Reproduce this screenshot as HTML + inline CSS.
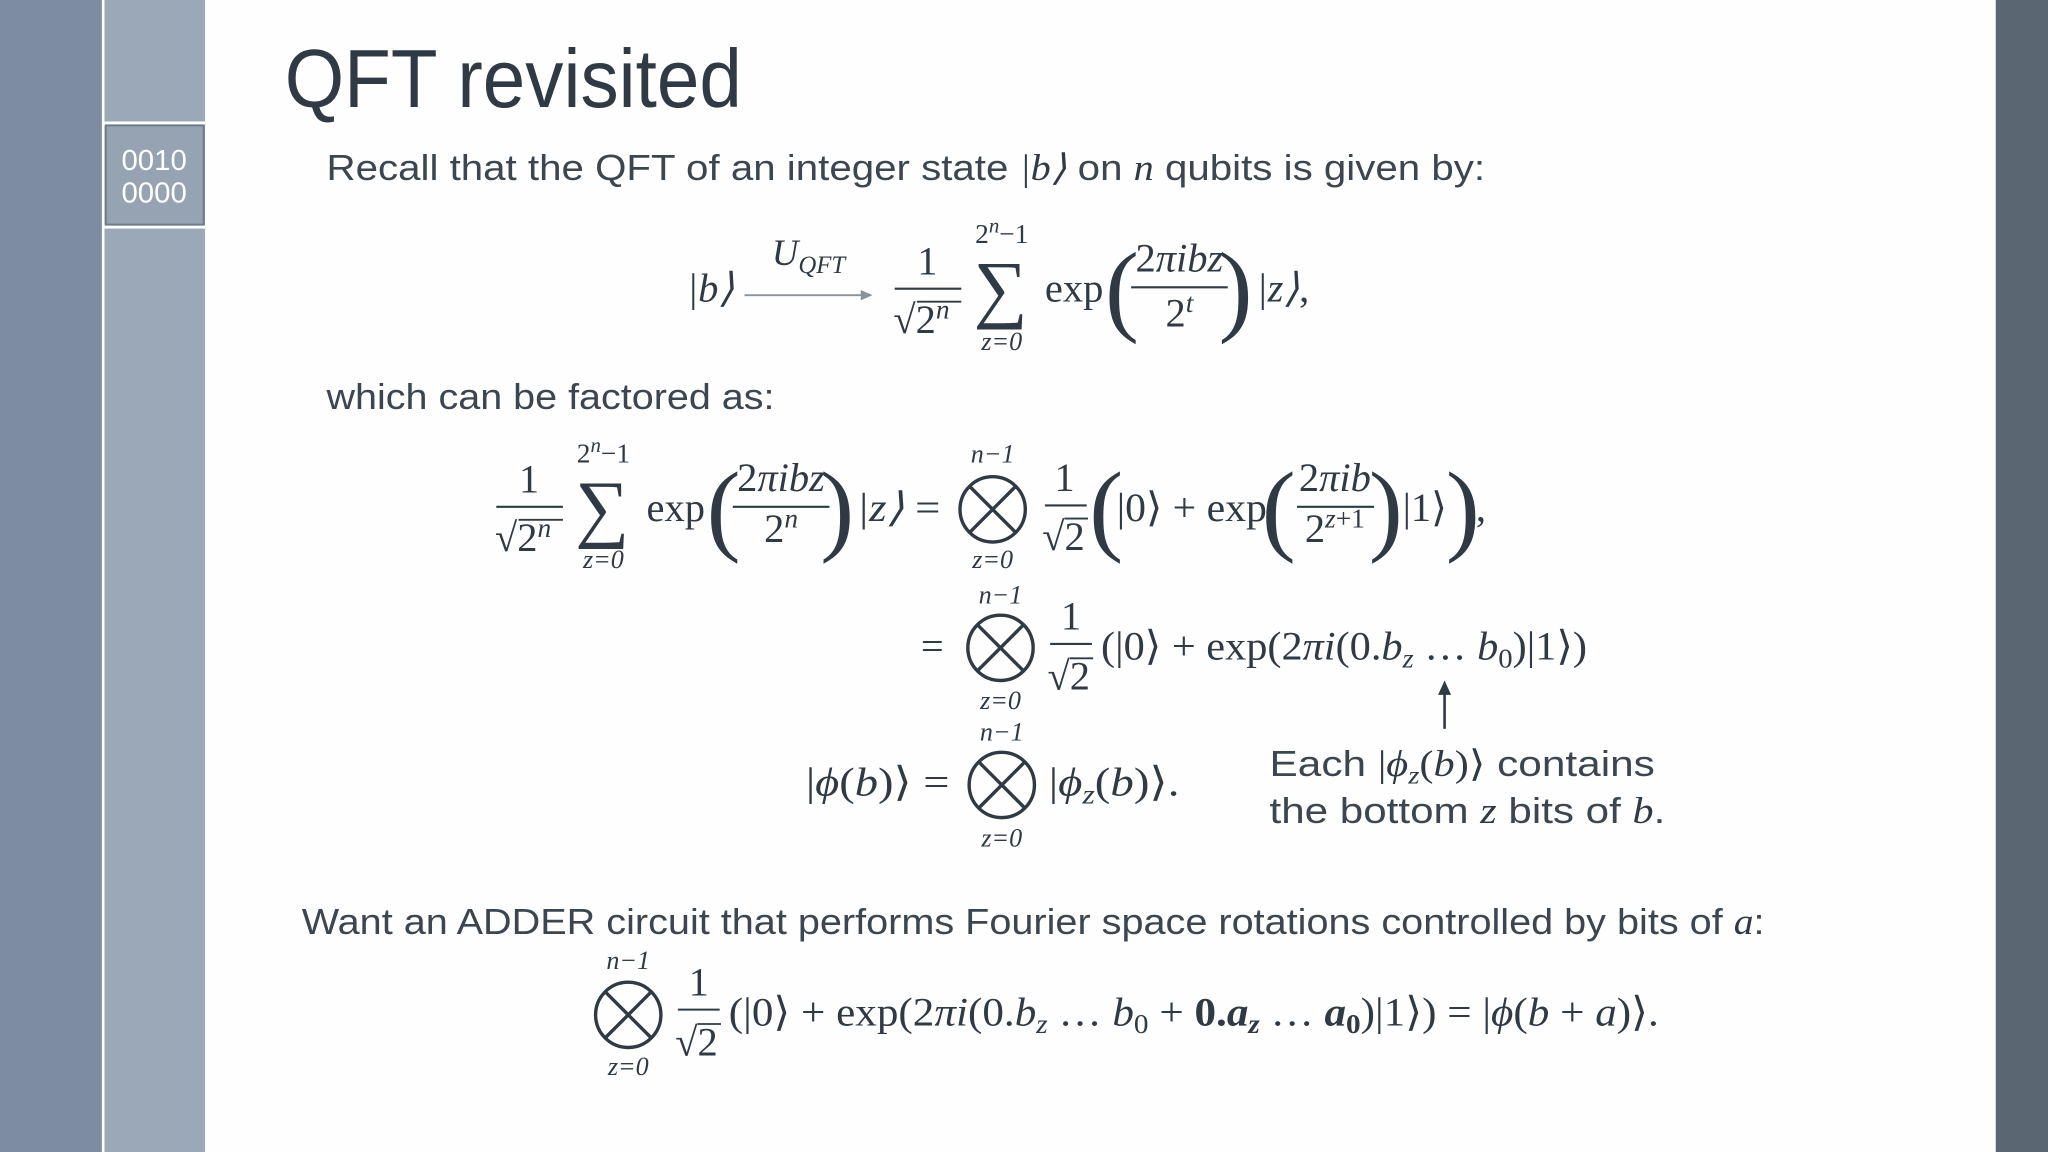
<!DOCTYPE html>
<html><head><meta charset="utf-8"><style>
html,body{margin:0;padding:0;background:#fff;}
svg{display:block}
.t{font-family:"Liberation Sans",sans-serif;fill:#3c4650}
.m{font-family:"Liberation Serif",serif;fill:#2f3a45}
.i{font-style:italic}
</style></head><body>
<svg width="2048" height="1152" viewBox="0 0 1568 882" xmlns="http://www.w3.org/2000/svg">
<rect x="0" y="0" width="1568" height="882" fill="#fefefe"/>
<rect x="0" y="0" width="78" height="882" fill="#7d8ca0"/>
<rect x="80" y="0" width="77" height="882" fill="#9aa8b8"/>
<rect x="80" y="93" width="77" height="3" fill="#fff"/>
<rect x="80" y="172" width="77" height="3" fill="#fff"/>
<rect x="81" y="96" width="75" height="76" fill="#95a3b3" stroke="#6d7b8b" stroke-width="1.5"/>
<text x="118" y="130" text-anchor="middle" class="t" style="fill:#fff" font-size="22" textLength="50" lengthAdjust="spacingAndGlyphs">0010</text>
<text x="118" y="155" text-anchor="middle" class="t" style="fill:#fff" font-size="22" textLength="50" lengthAdjust="spacingAndGlyphs">0000</text>
<rect x="1528" y="0" width="40" height="882" fill="#5a6672"/>

<text x="218" y="82" class="t" font-size="63" style="fill:#2f3a45" textLength="350" lengthAdjust="spacingAndGlyphs">QFT revisited</text>
<text x="250" y="138" class="t" font-size="28" textLength="887" lengthAdjust="spacingAndGlyphs">Recall that the QFT of an integer state <tspan class="m i">|b⟩</tspan> on <tspan class="m i">n</tspan> qubits is given by:</text>

<!-- Eq 1 -->
<g class="m" font-size="31">
<text x="526" y="231" class="m i">|b⟩</text>
<line x1="570" y1="226" x2="662" y2="226" stroke="#8a939c" stroke-width="1.5"/>
<polygon points="668,226 659,222 659,230" fill="#8a939c"/>
<text x="591" y="203" class="m i" font-size="28">U<tspan font-size="19" dy="6">QFT</tspan></text>
<text x="710" y="210" text-anchor="middle" class="m">1</text>
<line x1="685" y1="221" x2="736" y2="221" stroke="#2f3a45" stroke-width="1.6"/>
<text x="684" y="255" class="m">√2<tspan font-size="21" dy="-11" class="i">n</tspan></text>
<line x1="702" y1="231" x2="736" y2="231" stroke="#2f3a45" stroke-width="1.4"/>
<text x="767" y="186" text-anchor="middle" class="m" font-size="21">2<tspan dy="-8" font-size="16" class="i">n</tspan><tspan dy="8">−1</tspan></text>
<text x="766" y="240" text-anchor="middle" class="m" font-size="58">∑</text>
<text x="767" y="268" text-anchor="middle" class="m i" font-size="20">z=0</text>
<text x="800" y="231" class="m">exp</text>
<text x="846" y="247" class="m" font-size="78">(</text>
<text x="903" y="208" text-anchor="middle" class="m">2<tspan class="i">πibz</tspan></text>
<line x1="866" y1="220" x2="940" y2="220" stroke="#2f3a45" stroke-width="1.6"/>
<text x="903" y="250" text-anchor="middle" class="m">2<tspan class="i" font-size="21" dy="-11">t</tspan></text>
<text x="933" y="247" class="m" font-size="78">)</text>
<text x="962" y="231" class="m"><tspan class="i">|z⟩</tspan>,</text>
</g>

<text x="250" y="313" class="t" font-size="28" textLength="343" lengthAdjust="spacingAndGlyphs">which can be factored as:</text>

<!-- Eq 2 -->
<g font-size="31">
<text x="405" y="377" text-anchor="middle" class="m">1</text>
<line x1="380" y1="388" x2="431" y2="388" stroke="#2f3a45" stroke-width="1.6"/>
<text x="379" y="422" class="m">√2<tspan font-size="21" dy="-11" class="i">n</tspan></text>
<line x1="397" y1="398" x2="431" y2="398" stroke="#2f3a45" stroke-width="1.4"/>
<text x="462" y="354" text-anchor="middle" class="m" font-size="21">2<tspan dy="-8" font-size="16" class="i">n</tspan><tspan dy="8">−1</tspan></text>
<text x="461" y="408" text-anchor="middle" class="m" font-size="58">∑</text>
<text x="462" y="435" text-anchor="middle" class="m i" font-size="20">z=0</text>
<text x="495" y="399" class="m">exp</text>
<text x="541" y="415" class="m" font-size="78">(</text>
<text x="598" y="376" text-anchor="middle" class="m">2<tspan class="i">πibz</tspan></text>
<line x1="561" y1="388" x2="635" y2="388" stroke="#2f3a45" stroke-width="1.6"/>
<text x="598" y="415" text-anchor="middle" class="m">2<tspan class="i" font-size="21" dy="-11">n</tspan></text>
<text x="628" y="415" class="m" font-size="78">)</text>
<text x="656" y="399" class="m" textLength="64" lengthAdjust="spacingAndGlyphs"><tspan class="i">|z⟩</tspan> =</text>
<text x="760" y="354" text-anchor="middle" class="m i" font-size="20">n−1</text>
<g stroke="#2f3a45" stroke-width="2.6" fill="none"><circle cx="760" cy="390" r="25"/><line x1="742" y1="372" x2="778" y2="408"/><line x1="778" y1="372" x2="742" y2="408"/></g>
<text x="760" y="435" text-anchor="middle" class="m i" font-size="20">z=0</text>
<text x="815" y="376" text-anchor="middle" class="m">1</text>
<line x1="800" y1="387" x2="832" y2="387" stroke="#2f3a45" stroke-width="1.6"/>
<text x="798" y="421" class="m">√2</text>
<line x1="815" y1="397" x2="833" y2="397" stroke="#2f3a45" stroke-width="1.4"/>
<text x="834" y="415" class="m" font-size="78">(</text>
<text x="855" y="399" class="m" textLength="115" lengthAdjust="spacingAndGlyphs">|0⟩ + exp</text>
<text x="966" y="415" class="m" font-size="78">(</text>
<text x="1022" y="376" text-anchor="middle" class="m">2<tspan class="i">πib</tspan></text>
<line x1="993" y1="388" x2="1052" y2="388" stroke="#2f3a45" stroke-width="1.6"/>
<text x="1022" y="415" text-anchor="middle" class="m">2<tspan class="i" font-size="21" dy="-11">z</tspan><tspan font-size="21">+1</tspan></text>
<text x="1048" y="415" class="m" font-size="78">)</text>
<text x="1074" y="399" class="m">|1⟩</text>
<text x="1107" y="415" class="m" font-size="78">)</text>
<text x="1130" y="399" class="m">,</text>

<!-- line 3 -->
<text x="705" y="505" class="m">=</text>
<text x="766" y="462" text-anchor="middle" class="m i" font-size="20">n−1</text>
<g stroke="#2f3a45" stroke-width="2.6" fill="none"><circle cx="766" cy="496" r="25"/><line x1="748" y1="478" x2="784" y2="514"/><line x1="784" y1="478" x2="748" y2="514"/></g>
<text x="766" y="543" text-anchor="middle" class="m i" font-size="20">z=0</text>
<text x="820" y="482" text-anchor="middle" class="m">1</text>
<line x1="804" y1="493" x2="836" y2="493" stroke="#2f3a45" stroke-width="1.6"/>
<text x="802" y="528" class="m">√2</text>
<line x1="819" y1="504" x2="837" y2="504" stroke="#2f3a45" stroke-width="1.4"/>
<text x="843" y="505" class="m" textLength="372" lengthAdjust="spacingAndGlyphs">(|0⟩ + exp(2<tspan class="i">πi</tspan>(0.<tspan class="i">b<tspan font-size="21" dy="6">z</tspan></tspan><tspan dy="-6"> … </tspan><tspan class="i">b</tspan><tspan font-size="21" dy="6">0</tspan><tspan dy="-6">)|1⟩)</tspan></text>
<line x1="1106" y1="558" x2="1106" y2="530" stroke="#2f3a45" stroke-width="2"/>
<polygon points="1106,521 1101,532 1111,532" fill="#2f3a45"/>

<!-- line 4 -->
<text x="617" y="609" class="m" textLength="110" lengthAdjust="spacingAndGlyphs">|<tspan class="i">ϕ</tspan>(<tspan class="i">b</tspan>)⟩ =</text>
<text x="767" y="567" text-anchor="middle" class="m i" font-size="20">n−1</text>
<g stroke="#2f3a45" stroke-width="2.6" fill="none"><circle cx="767" cy="601" r="25"/><line x1="749" y1="583" x2="785" y2="619"/><line x1="785" y1="583" x2="749" y2="619"/></g>
<text x="767" y="648" text-anchor="middle" class="m i" font-size="20">z=0</text>
<text x="803" y="609" class="m" textLength="100" lengthAdjust="spacingAndGlyphs">|<tspan class="i">ϕ</tspan><tspan class="i" font-size="21" dy="6">z</tspan><tspan dy="-6">(</tspan><tspan class="i">b</tspan>)⟩.</text>
</g>
<text x="972" y="594" class="t" font-size="28" textLength="295" lengthAdjust="spacingAndGlyphs">Each <tspan class="m">|<tspan class="i">ϕ</tspan><tspan class="i" font-size="19" dy="6">z</tspan><tspan dy="-6">(</tspan><tspan class="i">b</tspan>)⟩</tspan> contains</text>
<text x="972" y="630" class="t" font-size="28" textLength="303" lengthAdjust="spacingAndGlyphs">the bottom <tspan class="m i">z</tspan> bits of <tspan class="m i">b</tspan>.</text>

<text x="231" y="715" class="t" font-size="28" textLength="1120" lengthAdjust="spacingAndGlyphs">Want an ADDER circuit that performs Fourier space rotations controlled by bits of <tspan class="m i">a</tspan>:</text>

<g font-size="31">
<text x="481" y="742" text-anchor="middle" class="m i" font-size="20">n−1</text>
<g stroke="#2f3a45" stroke-width="2.6" fill="none"><circle cx="481" cy="777" r="25"/><line x1="463" y1="759" x2="499" y2="795"/><line x1="499" y1="759" x2="463" y2="795"/></g>
<text x="481" y="823" text-anchor="middle" class="m i" font-size="20">z=0</text>
<text x="535" y="762" text-anchor="middle" class="m">1</text>
<line x1="519" y1="773" x2="551" y2="773" stroke="#2f3a45" stroke-width="1.6"/>
<text x="517" y="808" class="m">√2</text>
<line x1="534" y1="784" x2="552" y2="784" stroke="#2f3a45" stroke-width="1.4"/>
<text x="558" y="785" class="m" textLength="712" lengthAdjust="spacingAndGlyphs">(|0⟩ + exp(2<tspan class="i">πi</tspan>(0.<tspan class="i">b<tspan font-size="21" dy="6">z</tspan></tspan><tspan dy="-6"> … </tspan><tspan class="i">b</tspan><tspan font-size="21" dy="6">0</tspan><tspan dy="-6"> + </tspan><tspan font-weight="bold">0.</tspan><tspan font-weight="bold" class="i">a<tspan font-size="21" dy="6">z</tspan></tspan><tspan dy="-6"> … </tspan><tspan class="i" font-weight="bold">a</tspan><tspan font-size="21" dy="6" font-weight="bold">0</tspan><tspan dy="-6">)|1⟩) = |</tspan><tspan class="i">ϕ</tspan>(<tspan class="i">b</tspan> + <tspan class="i">a</tspan>)⟩.</text>
</g>
</svg>
</body></html>
